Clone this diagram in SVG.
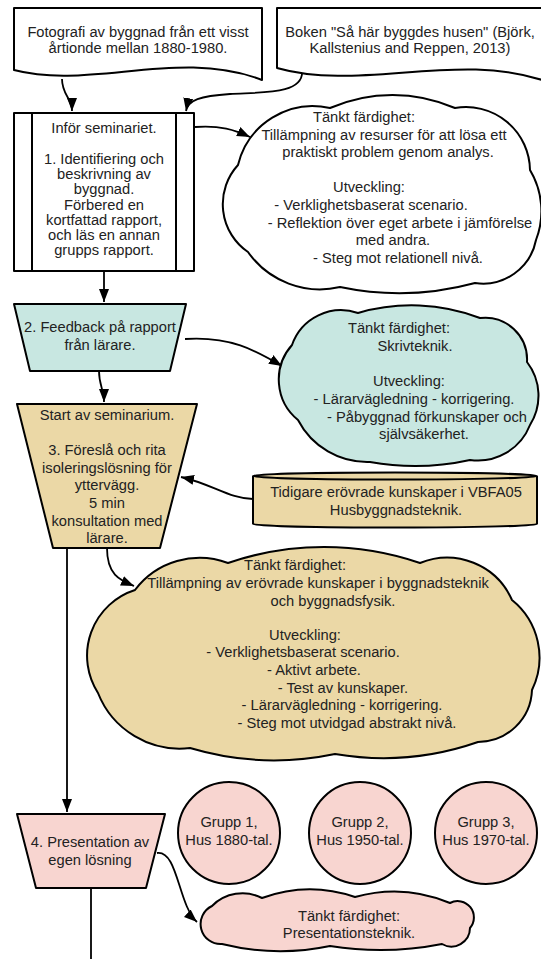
<svg xmlns="http://www.w3.org/2000/svg" width="541" height="959" viewBox="0 0 541 959">
<style>
.s{stroke:#000;stroke-width:2;stroke-linejoin:round}
.w{fill:#fff}
.teal{fill:#c8e7e1}
.tan{fill:#ebd8a6}
.pink{fill:#f8d5d0}
text{font-family:"Liberation Sans",Arial,sans-serif;font-size:14.7px;fill:#222;text-anchor:middle}
.c{fill:none;stroke:#000;stroke-width:1.8}
</style>
<defs>
<marker id="ah" markerWidth="14" markerHeight="12" refX="13" refY="6" orient="auto" markerUnits="userSpaceOnUse"><path d="M0,1 L13,6 L0,11 Z" fill="#000"/></marker>
</defs>
<rect width="541" height="959" fill="#fff"/>

<g id="connectors">
<path class="c" d="M62,79 C62,95 72,98 72,111" marker-end="url(#ah)"/>
<path class="c" d="M302,70 C305,95 260,92 230,94 C200,96 188,100 186,111" marker-end="url(#ah)"/>
<path class="c" d="M195,127 C220,125 235,130 250,137" marker-end="url(#ah)"/>
<path class="c" d="M104,271 V302" marker-end="url(#ah)"/>
<path class="c" d="M185,339 C230,336 255,350 282,366" marker-end="url(#ah)"/>
<path class="c" d="M99,371 C99,385 104,390 104,402" marker-end="url(#ah)"/>
<path class="c" d="M253,499 C230,499 212,484 181,477" marker-end="url(#ah)"/>
<path class="c" d="M107,548 C107,575 120,580 134,586" marker-end="url(#ah)"/>
<path class="c" d="M67,548 V812" marker-end="url(#ah)"/>
<path class="c" d="M157,853 C178,850 178,905 197,922" marker-end="url(#ah)"/>
<path class="c" d="M91,888 V959"/>
</g>

<g id="doc1">
<path class="s w" d="M14,8 H262 V80 C180,48 90,90 14,70 Z"/>
<text x="138" y="37">Fotografi av byggnad från ett visst</text>
<text x="138" y="53">årtionde mellan 1880-1980.</text>
</g>

<g id="doc2">
<path class="s w" d="M277,8 H548 V82 C460,50 360,92 277,68 Z"/>
<text x="410" y="37">Boken "Så här byggdes husen" (Björk,</text>
<text x="410" y="53">Kallstenius and Reppen, 2013)</text>
</g>

<g id="step1">
<rect class="s w" x="14" y="113" width="180" height="158"/>
<path class="s" d="M32,113 V271 M176,113 V271" fill="none"/>
<text x="104" y="133">Inför seminariet.</text>
<text x="104" y="164">1. Identifiering och</text>
<text x="104" y="179">beskrivning av</text>
<text x="104" y="194">byggnad.</text>
<text x="104" y="210">Förbered en</text>
<text x="104" y="225">kortfattad rapport,</text>
<text x="104" y="240">och läs en annan</text>
<text x="104" y="255">grupps rapport.</text>
</g>

<g id="cloud1">
<path class="s w" d="M238,165 A77,77 0 0 1 330,108 A156,156 0 0 1 455,108 A64,64 0 0 1 530,170 A80,80 0 0 1 536,240 A54,54 0 0 1 475,283 A289,289 0 0 1 340,287 A88,88 0 0 1 248,252 A58,58 0 0 1 238,165 Z"/>
<text x="364" y="122">Tänkt färdighet:</text>
<text x="384" y="140">Tillämpning av resurser för att lösa ett</text>
<text x="388" y="157">praktiskt problem genom analys.</text>
<text x="369" y="192">Utveckling:</text>
<text x="371" y="210">- Verklighetsbaserat scenario.</text>
<text x="400" y="228">- Reflektion över eget arbete i jämförelse</text>
<text x="393" y="245">med andra.</text>
<text x="398" y="263">- Steg mot relationell nivå.</text>
</g>

<g id="step2">
<path class="s teal" d="M14,304 H186 L170,371 H30 Z"/>
<text x="100" y="332">2. Feedback på rapport</text>
<text x="100" y="350">från lärare.</text>
</g>

<g id="cloud2">
<path class="s teal" d="M292,345 A52,52 0 0 1 358,313 A191,191 0 0 1 480,318 A42,42 0 0 1 527,362 A55,55 0 0 1 530,425 A56,56 0 0 1 470,460 A252,252 0 0 1 370,462 A78,78 0 0 1 298,420 A52,52 0 0 1 292,345 Z"/>
<text x="399" y="333">Tänkt färdighet:</text>
<text x="415" y="351">Skrivteknik.</text>
<text x="409" y="386">Utveckling:</text>
<text x="414" y="404">- Lärarvägledning - korrigering.</text>
<text x="427" y="422">- Påbyggnad förkunskaper och</text>
<text x="424" y="439">självsäkerhet.</text>
</g>

<g id="step3">
<path class="s tan" d="M17,404 H197 L160,548 H53 Z"/>
<text x="107" y="420">Start av seminarium.</text>
<text x="107" y="455">3. Föreslå och rita</text>
<text x="107" y="473">isoleringslösning för</text>
<text x="107" y="490">yttervägg.</text>
<text x="107" y="508">5 min</text>
<text x="107" y="526">konsultation med</text>
<text x="107" y="543">lärare.</text>
</g>

<g id="prior">
<path class="s tan" d="M253,476 A142,3.5 0 0 1 537,476 V524 A142,3.5 0 0 1 253,524 Z"/>
<path class="s" fill="none" d="M253,476 A142,3.5 0 0 0 537,476"/>
<text x="396" y="497">Tidigare erövrade kunskaper i VBFA05</text>
<text x="396" y="515">Husbyggnadsteknik.</text>
</g>

<g id="cloud3">
<path class="s tan" d="M135,590 A81,81 0 0 1 228,563 A296,296 0 0 1 420,563 A71,71 0 0 1 512,600 A74,74 0 0 1 532,690 A54,54 0 0 1 478,742 A288,288 0 0 1 335,754 A296,296 0 0 1 190,748 A88,88 0 0 1 98,693 A69,69 0 0 1 135,590 Z"/>
<text x="295" y="570">Tänkt färdighet:</text>
<text x="318" y="588">Tillämpning av erövrade kunskaper i byggnadsteknik</text>
<text x="333" y="606">och byggnadsfysik.</text>
<text x="305" y="640">Utveckling:</text>
<text x="303" y="657">- Verklighetsbaserat scenario.</text>
<text x="314" y="675">- Aktivt arbete.</text>
<text x="343" y="693">- Test av kunskaper.</text>
<text x="342" y="710">- Lärarvägledning - korrigering.</text>
<text x="347" y="728">- Steg mot utvidgad abstrakt nivå.</text>
</g>

<g id="step4">
<path class="s pink" d="M17,814 H165 L146,888 H36 Z"/>
<text x="90" y="847">4. Presentation av</text>
<text x="90" y="865">egen lösning</text>
</g>

<g id="grupp1">
<circle class="s pink" cx="229" cy="833" r="51"/>
<text x="229" y="827">Grupp 1,</text>
<text x="229" y="845">Hus 1880-tal.</text>
</g>
<g id="grupp2">
<circle class="s pink" cx="360" cy="833" r="51"/>
<text x="360" y="827">Grupp 2,</text>
<text x="360" y="845">Hus 1950-tal.</text>
</g>
<g id="grupp3">
<circle class="s pink" cx="486" cy="833" r="51"/>
<text x="486" y="827">Grupp 3,</text>
<text x="486" y="845">Hus 1970-tal.</text>
</g>

<g id="cloud4">
<path class="s pink" d="M212,906 A43,43 0 0 1 262,898 A139,139 0 0 1 355,897 A145,145 0 0 1 450,903 A16.3,16.3 0 0 1 470,928 A18.7,18.7 0 0 1 442,944 A316,316 0 0 1 330,946 A243,243 0 0 1 222,944 A20,20 0 0 1 212,906 Z"/>
<text x="349" y="921">Tänkt färdighet:</text>
<text x="349" y="938">Presentationsteknik.</text>
</g>
</svg>
